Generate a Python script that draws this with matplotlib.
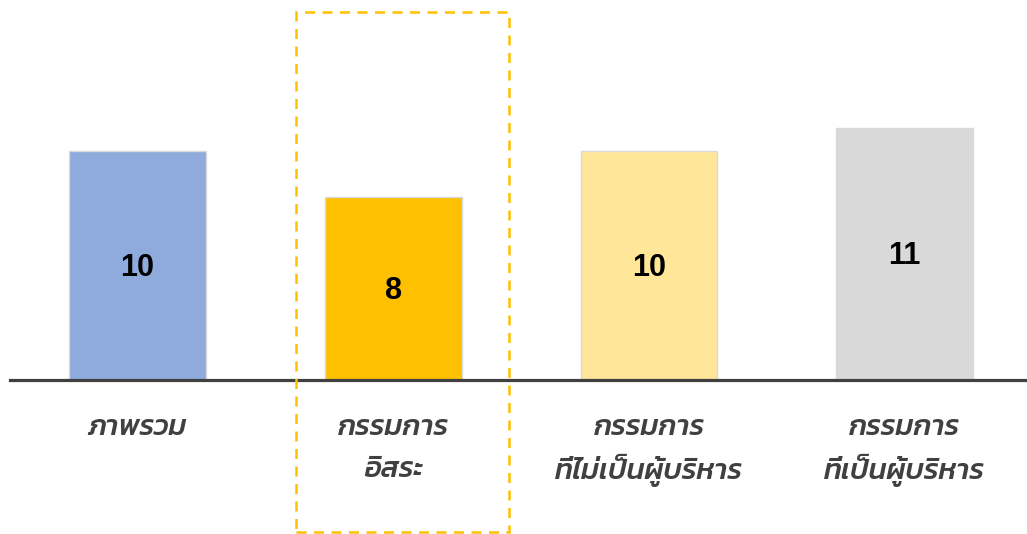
import matplotlib
matplotlib.use('Agg')
import matplotlib.pyplot as plt
from matplotlib.patches import Rectangle

# data
categories = ['ภาพรวม', 'กรรมการ\nอิสระ', 'กรรมการ\nที่ไม่เป็นผู้บริหาร', 'กรรมการ\nที่เป็นผู้บริหาร']
values = [10, 8, 10, 11]
colors = ['#8FAADC', '#FFC000', '#FFE699', '#D9D9D9']
highlight = 1

thai_font = 'Kanit'
text_color = '#404040'

fig = plt.figure(figsize=(10.27, 5.34), dpi=100)
ax = fig.add_axes([10 / 1027, 154 / 534, 1017 / 1027, 343.5 / 534])

x = list(range(len(values)))
bars = ax.bar(x, values, width=0.535, color=colors, edgecolor='#D9D9D9', linewidth=1)

for xi, v in zip(x, values):
    ax.text(xi, v / 2 - 0.1, str(v), ha='center', va='center', fontsize=22,
            fontweight='bold', family='Liberation Sans', color='black')

for xi, lab in zip(x, categories):
    for k, line in enumerate(lab.split('\n')):
        ax.text(xi, -2.08 - k * 1.85, line, ha='center', va='center',
                fontsize=21, family=thai_font, style='italic', fontweight='medium',
                color=text_color, clip_on=False)

ax.axhline(0, color=text_color, linewidth=2.3, zorder=3, clip_on=False)

# dashed box around the highlighted category
ax.add_patch(Rectangle((highlight - 0.378, -6.64), 0.829, 22.7, fill=False,
                       edgecolor='#FFC000', linewidth=1.8, linestyle=(0, (4, 3)),
                       clip_on=False, zorder=4))

ax.set_xlim(-0.498, 3.478)
ax.set_ylim(0, 15)
ax.axis('off')

fig.savefig('out.png', dpi=100)
